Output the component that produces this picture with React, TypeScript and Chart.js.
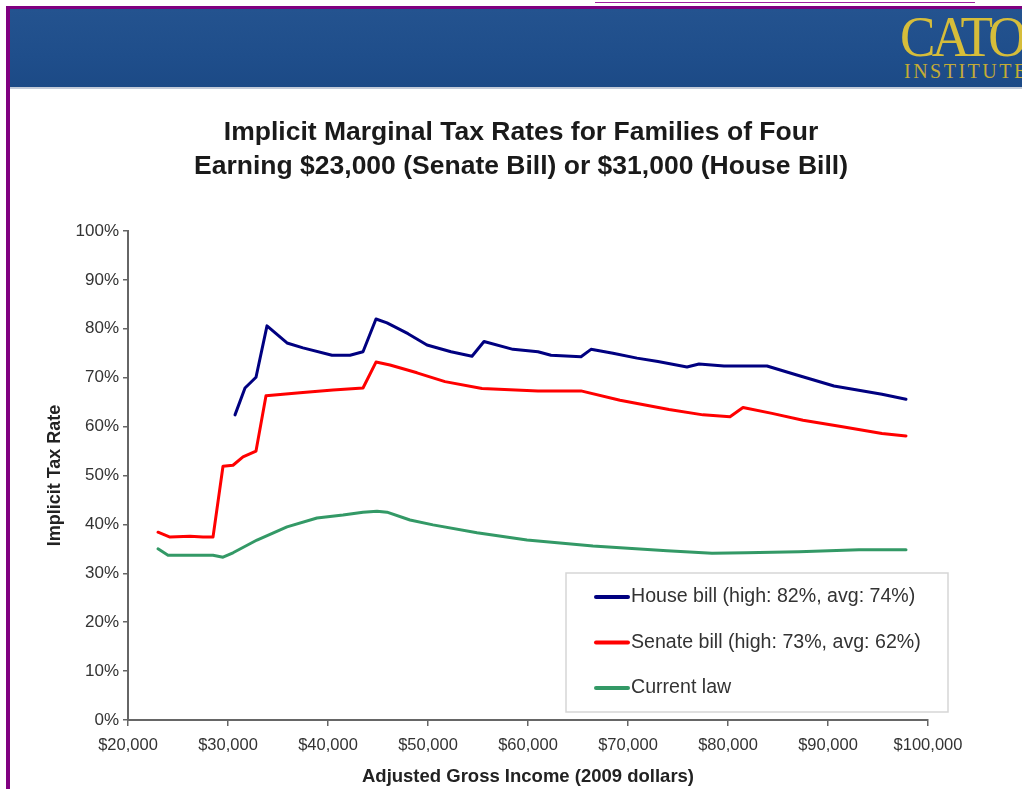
import React, { useEffect, useRef } from "react";
import { Chart, registerables } from "chart.js";

Chart.register(...registerables);

// ---- Data ----
const houseIncome = [30700, 31700, 32800, 33900, 35900, 37500, 40400, 42200, 43500, 44800, 45900, 48000, 49900, 52300, 54400, 55600, 58500, 61000, 62300, 65300, 66300, 68500, 70900, 73000, 75900, 77100, 79600, 83900, 86800, 90600, 95400, 97800];
const houseRate = [62.4, 67.9, 70.1, 80.6, 77.1, 76.1, 74.6, 74.6, 75.3, 82.0, 81.2, 79.0, 76.7, 75.3, 74.4, 77.4, 75.8, 75.3, 74.6, 74.3, 75.8, 75.0, 74.0, 73.3, 72.2, 72.8, 72.4, 72.4, 70.6, 68.3, 66.6, 65.6];

const senateIncome = [23000, 24200, 26200, 27500, 28500, 29500, 30500, 31500, 32800, 33800, 37200, 40500, 43500, 44800, 46200, 48900, 51700, 55400, 61000, 65300, 69200, 74100, 77500, 80200, 81500, 84400, 87500, 91300, 95400, 97800];
const senateRate = [38.4, 37.4, 37.6, 37.4, 37.4, 51.9, 52.1, 53.8, 55.0, 66.3, 66.9, 67.5, 67.9, 73.2, 72.6, 71.0, 69.2, 67.8, 67.3, 67.3, 65.4, 63.5, 62.4, 62.0, 63.9, 62.7, 61.3, 60.0, 58.6, 58.1];

const currentIncome = [23000, 24000, 26200, 28500, 29500, 30500, 32900, 35900, 38900, 41500, 43500, 44900, 45900, 48200, 50500, 54900, 59900, 66500, 73900, 78400, 81800, 87100, 93100, 97800];
const currentRate = [35.0, 33.7, 33.7, 33.7, 33.3, 34.2, 36.8, 39.5, 41.3, 41.9, 42.5, 42.7, 42.5, 40.9, 39.9, 38.3, 36.8, 35.6, 34.6, 34.1, 34.2, 34.4, 34.8, 34.8];

const xTickLabels = ["$20,000", "$30,000", "$40,000", "$50,000", "$60,000", "$70,000", "$80,000", "$90,000", "$100,000"];
const yTickLabels = ["0%", "10%", "20%", "30%", "40%", "50%", "60%", "70%", "80%", "90%", "100%"];

const seriesLabels = [
  "House bill (high: 82%, avg: 74%)",
  "Senate bill (high: 73%, avg: 62%)",
  "Current law",
];

const titleLines = [
  "Implicit Marginal Tax Rates for Families of Four",
  "Earning $23,000 (Senate Bill) or $31,000 (House Bill)",
];

const FONT = '"Liberation Sans", Arial, sans-serif';

const toPoints = (xs: number[], ys: number[]) => xs.map((x, i) => ({ x, y: ys[i] }));

const legendPlugin = {
  id: "boxLegend",
  afterDatasetsDraw(chart: any) {
    const ctx = chart.ctx as CanvasRenderingContext2D;
    ctx.save();
    ctx.fillStyle = "#ffffff";
    ctx.strokeStyle = "#d6d6d6";
    ctx.lineWidth = 1.5;
    ctx.fillRect(566, 573, 382, 139);
    ctx.strokeRect(566, 573, 382, 139);
    chart.data.datasets.forEach((ds: any, i: number) => {
      const y = 597 + i * 45.5;
      ctx.strokeStyle = ds.borderColor;
      ctx.lineWidth = 4;
      ctx.lineCap = "round";
      ctx.beginPath();
      ctx.moveTo(596, y);
      ctx.lineTo(628, y);
      ctx.stroke();
      ctx.fillStyle = "#333333";
      ctx.font = `19.6px ${FONT}`;
      ctx.textBaseline = "middle";
      ctx.textAlign = "left";
      ctx.fillText(ds.label, 631, y);
    });
    ctx.restore();
  },
};

export default function App() {
  const ref = useRef<HTMLCanvasElement>(null);

  useEffect(() => {
    if (!ref.current) return;
    Chart.defaults.font.family = FONT;
    const chart = new Chart(ref.current, {
      type: "line",
      data: {
        datasets: [
          {
            label: seriesLabels[0],
            data: toPoints(houseIncome, houseRate),
            borderColor: "#000080",
            backgroundColor: "#000080",
          },
          {
            label: seriesLabels[1],
            data: toPoints(senateIncome, senateRate),
            borderColor: "#ff0000",
            backgroundColor: "#ff0000",
          },
          {
            label: seriesLabels[2],
            data: toPoints(currentIncome, currentRate),
            borderColor: "#339966",
            backgroundColor: "#339966",
          },
        ].map((d) => ({
          ...d,
          borderWidth: 3,
          pointRadius: 0,
          tension: 0,
          fill: false,
          borderJoinStyle: "round" as const,
          borderCapStyle: "round" as const,
        })),
      },
      options: {
        responsive: false,
        animation: false,
        layout: { padding: { left: 20, right: 0, top: 0, bottom: 0 } },
        plugins: {
          legend: { display: false },
          tooltip: { enabled: false },
          title: {
            display: true,
            text: titleLines,
            color: "#1a1a1a",
            font: { size: 26.5, weight: "bold", family: FONT, lineHeight: 1.283 },
            padding: { top: 116, bottom: 47 },
          },
        },
        scales: {
          x: {
            type: "linear",
            min: 20000,
            max: 100000,
            ticks: {
              stepSize: 10000,
              color: "#333333",
              font: { size: 16.5, family: FONT },
              padding: 10,
              maxRotation: 0,
              callback: (v: any) => xTickLabels[Math.round((Number(v) - 20000) / 10000)],
            },
            grid: { drawOnChartArea: false, drawTicks: true, tickLength: 6, color: "#666666", lineWidth: 1.5 },
            border: { display: true, color: "#666666", width: 2 },
            title: {
              display: true,
              text: "Adjusted Gross Income (2009 dollars)",
              color: "#222222",
              font: { size: 18.5, weight: "bold", family: FONT },
              padding: { top: 0, bottom: 1 },
            },
            afterFit: (s: any) => {
              s.height = 69;
            },
          },
          y: {
            min: 0,
            max: 100,
            ticks: {
              stepSize: 10,
              color: "#333333",
              font: { size: 17, family: FONT },
              padding: 4,
              callback: (v: any) => yTickLabels[Math.round(Number(v) / 10)],
            },
            grid: { drawOnChartArea: false, drawTicks: true, tickLength: 5, color: "#666666", lineWidth: 1.5 },
            border: { display: true, color: "#666666", width: 2 },
            title: {
              display: true,
              text: "Implicit Tax Rate",
              color: "#222222",
              font: { size: 18, weight: "bold", family: FONT },
              padding: { top: 24, bottom: 0 },
            },
            afterFit: (s: any) => {
              s.width = 108;
            },
          },
          yRight: {
            type: "linear",
            position: "right",
            display: true,
            grid: { display: false, drawTicks: false },
            ticks: { display: false },
            border: { display: false },
            afterFit: (s: any) => {
              s.width = 94;
            },
          },
        },
      },
      plugins: [legendPlugin],
    } as any);
    return () => chart.destroy();
  }, []);

  return (
    <div
      style={{
        position: "absolute",
        left: 0,
        top: 0,
        width: 1022,
        height: 789,
        overflow: "hidden",
        background: "#ffffff",
      }}
    >
      <div style={{ position: "absolute", left: 595, top: 2, width: 380, height: 1, background: "#a020a0" }} />
      <div style={{ position: "absolute", left: 10, top: 9, width: 1012, height: 78, background: "linear-gradient(180deg, #24538f 0%, #1f4e8b 60%, #1c4a86 100%)" }} />
      <div style={{ position: "absolute", left: 10, top: 87, width: 1012, height: 2, background: "#c3cbd8" }} />
      <div style={{ position: "absolute", left: 6, top: 6, width: 1016, height: 3, background: "#800080" }} />
      <div style={{ position: "absolute", left: 6, top: 6, width: 4, height: 783, background: "#800080" }} />
      <div
        style={{
          position: "absolute",
          left: 900,
          top: 9,
          fontFamily: '"Liberation Serif", "DejaVu Serif", serif',
          fontSize: 56,
          lineHeight: "56px",
          color: "#d6bd3a",
          letterSpacing: -4,
          transform: "scaleX(0.95)",
          transformOrigin: "left top",
          whiteSpace: "nowrap",
        }}
      >
        CATO
      </div>
      <div
        style={{
          position: "absolute",
          left: 904,
          top: 61,
          fontFamily: '"Liberation Serif", "DejaVu Serif", serif',
          fontSize: 20,
          lineHeight: "20px",
          color: "#c4ab35",
          letterSpacing: 2.5,
          whiteSpace: "nowrap",
        }}
      >
        INSTITUTE
      </div>
      <canvas ref={ref} width={1022} height={789} style={{ position: "absolute", left: 0, top: 0, width: 1022, height: 789 }} />
    </div>
  );
}
